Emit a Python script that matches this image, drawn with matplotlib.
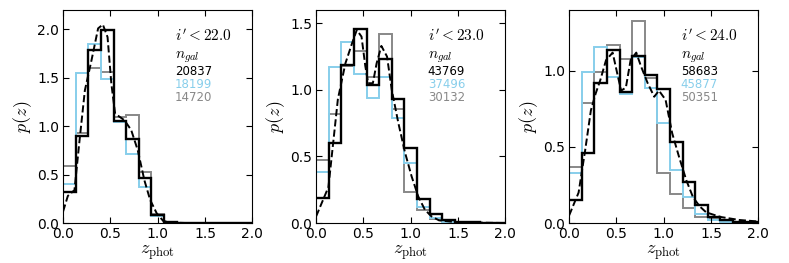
import numpy as np
import matplotlib
matplotlib.use('Agg')
import matplotlib.pyplot as plt

plt.rcParams['mathtext.fontset'] = 'cm'
plt.rcParams['font.family'] = 'DejaVu Sans'

# 15 bins from 0 to 2
edges = np.linspace(0.0, 2.0, 16)

cuts = ["22.0", "23.0", "24.0"]
ylims = [2.2, 1.6, 1.4]
yticks = [[0.0, 0.5, 1.0, 1.5, 2.0], [0.0, 0.5, 1.0, 1.5], [0.0, 0.5, 1.0]]

n_black = ["20837", "43769", "58683"]
n_blue = ["18199", "37496", "45877"]
n_gray = ["14720", "30132", "50351"]

black_22 = [0.32, 0.90, 1.79, 1.99, 1.05, 0.87, 0.47, 0.08, 0.01, 0.005, 0.002, 0.0, 0.0, 0.0, 0.0]
blue_22 = [0.40, 1.55, 1.85, 1.49, 1.04, 0.71, 0.37, 0.07, 0.01, 0.004, 0.0, 0.0, 0.0, 0.0, 0.0]
gray_22 = [0.59, 0.93, 1.60, 1.56, 1.09, 1.12, 0.53, 0.09, 0.01, 0.005, 0.0, 0.0, 0.0, 0.0, 0.0]

black_23 = [0.19, 0.60, 1.19, 1.46, 1.04, 1.23, 0.93, 0.56, 0.18, 0.07, 0.02, 0.01, 0.005, 0.0, 0.0]
blue_23 = [0.38, 1.17, 1.36, 1.12, 0.94, 1.10, 0.79, 0.45, 0.12, 0.04, 0.01, 0.005, 0.0, 0.0, 0.0]
gray_23 = [0.47, 0.82, 1.18, 1.29, 1.10, 1.42, 0.86, 0.23, 0.10, 0.03, 0.02, 0.01, 0.005, 0.0, 0.0]

black_24 = [0.15, 0.46, 0.92, 1.14, 0.86, 1.10, 0.97, 0.88, 0.53, 0.27, 0.12, 0.04, 0.02, 0.01, 0.01]
blue_24 = [0.33, 0.99, 1.16, 0.96, 0.85, 1.09, 0.89, 0.66, 0.35, 0.17, 0.06, 0.02, 0.01, 0.005, 0.0]
gray_24 = [0.37, 0.79, 0.99, 1.17, 1.08, 1.33, 0.95, 0.33, 0.19, 0.10, 0.04, 0.03, 0.01, 0.005, 0.0]

# dashed smooth curves
zc_22 = [0.0, 0.05, 0.12, 0.17, 0.23, 0.30, 0.37, 0.42, 0.47, 0.51, 0.55, 0.65, 0.72, 0.79, 0.86, 0.92, 0.99, 1.06, 1.15, 1.3, 2.0]
pc_22 = [0.12, 0.28, 0.34, 0.82, 1.37, 1.68, 2.01, 2.05, 1.92, 1.44, 1.13, 1.06, 0.96, 0.75, 0.44, 0.24, 0.10, 0.02, 0.005, 0.0, 0.0]
zc_23 = [0.0, 0.13, 0.18, 0.23, 0.31, 0.38, 0.43, 0.48, 0.52, 0.55, 0.60, 0.64, 0.69, 0.75, 0.80, 0.87, 0.94, 1.01, 1.08, 1.15, 1.22, 1.30, 1.50, 2.0]
pc_23 = [0.05, 0.27, 0.60, 0.93, 1.20, 1.35, 1.45, 1.40, 1.18, 1.05, 1.05, 1.20, 1.33, 1.25, 1.00, 0.75, 0.53, 0.35, 0.20, 0.10, 0.05, 0.02, 0.005, 0.0]
zc_24 = [0.0, 0.10, 0.17, 0.23, 0.28, 0.33, 0.39, 0.46, 0.51, 0.55, 0.60, 0.65, 0.71, 0.76, 0.83, 0.90, 0.95, 1.02, 1.09, 1.16, 1.24, 1.31, 1.38, 1.45, 1.60, 1.80, 2.0]
pc_24 = [0.05, 0.20, 0.48, 0.74, 0.85, 0.94, 1.07, 1.12, 0.98, 0.87, 0.89, 1.07, 1.12, 1.03, 0.92, 0.83, 0.87, 0.81, 0.59, 0.44, 0.28, 0.17, 0.11, 0.07, 0.04, 0.02, 0.01]

blacks = [black_22, black_23, black_24]
blues = [blue_22, blue_23, blue_24]
grays = [gray_22, gray_23, gray_24]
curves = [(zc_22, pc_22), (zc_23, pc_23), (zc_24, pc_24)]

c_blue = '#87ceeb'
c_gray = '#888888'

fig, axes = plt.subplots(1, 3, figsize=(7.89, 2.63), dpi=100)
fig.subplots_adjust(left=0.08, right=0.961, bottom=0.152, top=0.962, wspace=0.338)

for i, ax in enumerate(axes):
    ax.stairs(grays[i], edges, baseline=None, color=c_gray, lw=1.4)
    ax.stairs(blues[i], edges, baseline=None, color=c_blue, lw=1.4)
    ax.stairs(blacks[i], edges, baseline=None, color='black', lw=1.7)
    ax.plot(curves[i][0], curves[i][1], 'k--', lw=1.4)

    ax.set_xlim(0, 2.0)
    ax.set_ylim(0, ylims[i])
    ax.set_xticks([0.0, 0.5, 1.0, 1.5, 2.0])
    ax.set_yticks(yticks[i])
    ax.xaxis.set_major_formatter(matplotlib.ticker.FormatStrFormatter('%.1f'))
    ax.yaxis.set_major_formatter(matplotlib.ticker.FormatStrFormatter('%.1f'))
    ax.tick_params(direction='in', top=True, right=True, labelsize=10, length=4, pad=3)
    ax.set_xlabel(r'$z_{\rm phot}$', fontsize=13, labelpad=1)
    ax.set_ylabel(r'$p(z)$', fontsize=13, labelpad=2)

    tx = 0.59
    ax.text(tx, 0.88, r"$i' < %s$" % cuts[i], transform=ax.transAxes, fontsize=11, va='center')
    ax.text(tx, 0.78, r"$n_{gal}$", transform=ax.transAxes, fontsize=11, va='center')
    ax.text(tx, 0.71, n_black[i], transform=ax.transAxes, fontsize=8.5, va='center', color='black')
    ax.text(tx, 0.65, n_blue[i], transform=ax.transAxes, fontsize=8.5, va='center', color=c_blue)
    ax.text(tx, 0.59, n_gray[i], transform=ax.transAxes, fontsize=8.5, va='center', color=c_gray)

plt.savefig('out.png', dpi=100)
